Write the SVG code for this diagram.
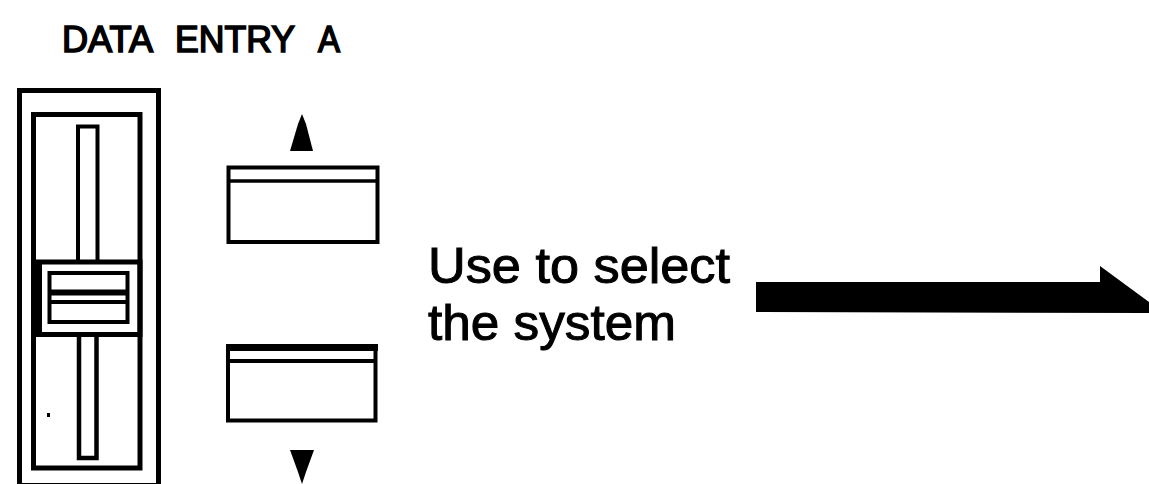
<svg xmlns="http://www.w3.org/2000/svg" width="1149" height="484" viewBox="0 0 1149 484">
  <style>
    .ln { fill: none; stroke: #000; stroke-linejoin: miter; }
    .blk { fill: #000; stroke: none; }
    .lbl { font-family: "Liberation Sans", Arial, Helvetica, sans-serif; fill: #000; stroke: #000; }
  </style>
  <rect x="0" y="0" width="1149" height="484" fill="#fff"/>

  <g id="title">
    <text class="lbl" font-size="36" y="52" stroke-width="1.6">
      <tspan x="62" textLength="91" lengthAdjust="spacingAndGlyphs">DATA</tspan><tspan x="175" textLength="120" lengthAdjust="spacingAndGlyphs">ENTRY</tspan><tspan x="318" textLength="22" lengthAdjust="spacingAndGlyphs">A</tspan>
    </text>
  </g>

  <g id="slider">
    <rect class="ln" x="19.5" y="90.5" width="139" height="395" stroke-width="5"/>
    <rect class="ln" x="33.5" y="114.5" width="106.5" height="353.5" stroke-width="5"/>
    <polyline class="ln" points="78,262 78,126.5 97.5,126.5 97.5,262" stroke-width="4"/>
    <polyline class="ln" points="79,334 79,458 96.5,458 96.5,334" stroke-width="4.5"/>
    <rect class="ln" x="33.5" y="262" width="106.5" height="72.5" stroke-width="5"/>
    <rect class="blk" x="33" y="262" width="9" height="73"/>
    <rect class="ln" x="49.5" y="273" width="78" height="49" stroke-width="4"/>
    <line class="ln" x1="49.5" y1="292.5" x2="127.5" y2="292.5" stroke-width="6"/>
    <line class="ln" x1="49.5" y1="302" x2="127.5" y2="302" stroke-width="4"/>
    <rect class="blk" x="47" y="413" width="3" height="4"/>
  </g>

  <g id="up-button">
    <polygon class="blk" points="302,114 306,124 313,151 290,151 298,124"/>
    <rect class="ln" x="228.5" y="167.5" width="149" height="74.5" stroke-width="4"/>
    <line class="ln" x1="228.5" y1="181" x2="377.5" y2="181" stroke-width="3.5"/>
  </g>

  <g id="down-button">
    <rect class="ln" x="228" y="347" width="147.5" height="73.5" stroke-width="4"/>
    <rect class="blk" x="226" y="344" width="152" height="7"/>
    <line class="ln" x1="228" y1="361" x2="375.5" y2="361" stroke-width="4"/>
    <polygon class="blk" points="290,450 314,450 306,472 302,484 298,472"/>
  </g>

  <g id="caption">
    <text class="lbl" font-size="50" x="428" y="283" stroke-width="1" textLength="302" lengthAdjust="spacingAndGlyphs">Use to select</text>
    <text class="lbl" font-size="50" x="428" y="340" stroke-width="1" textLength="248" lengthAdjust="spacingAndGlyphs">the system</text>
  </g>

  <g id="connectors">
    <polygon class="blk" points="756,282 1100,282 1100,266 1164,313 756,312"/>
  </g>
</svg>
